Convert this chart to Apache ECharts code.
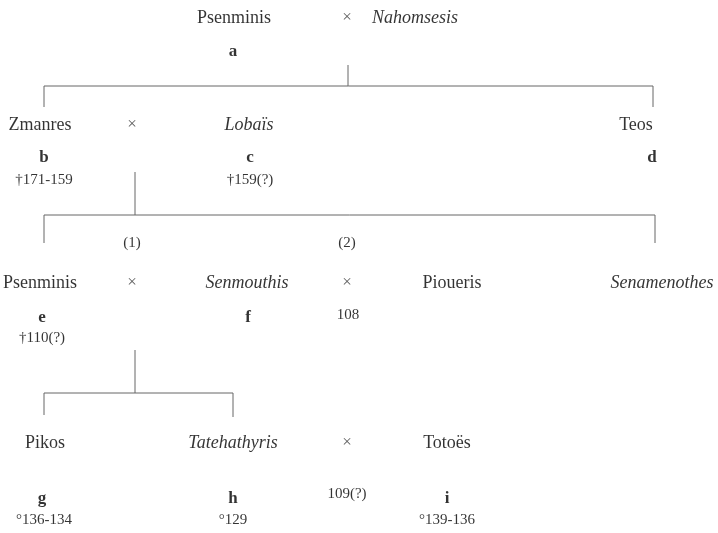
<!DOCTYPE html>
<html>
<head>
<meta charset="utf-8">
<script src="https://cdn.jsdelivr.net/npm/echarts@6/dist/echarts.min.js"></script>
<style>
html, body { margin: 0; padding: 0; background: #fff; }
#chart { width: 718px; height: 533px; }
</style>
</head>
<body>
<div id="chart"></div>
<script>
// persons (italic = female)
const names = ['Psenminis', 'Nahomsesis', 'Zmanres', 'Lobaïs', 'Teos', 'Psenminis', 'Senmouthis', 'Pioueris', 'Senamenothes', 'Pikos', 'Tatehathyris', 'Totoës'];
const female = [false, true, false, true, false, false, true, false, true, false, true, false];
const nameX = [234, 415, 40, 249, 636, 40, 247, 452, 662, 45, 233, 447];
const nameY = [18, 18, 125, 125, 125, 283, 283, 283, 283, 443, 443, 443];

// letters under the persons
const letters = ['a', 'b', 'c', 'd', 'e', 'f', 'g', 'h', 'i'];
const letterX = [233, 44, 250, 652, 42, 248, 42, 233, 447];
const letterY = [52, 158, 158, 158, 318, 318, 499, 499, 499];

// dates
const dates = ['†171-159', '†159(?)', '†110(?)', '°136-134', '°129', '°139-136'];
const dateX = [44, 250, 42, 44, 233, 447];
const dateY = [180, 180, 338, 520, 520, 520];

// marriage signs and notes
const marks = ['×', '×', '×', '×', '×', '(1)', '(2)', '108', '109(?)'];
const markX = [347, 132, 132, 347, 347, 132, 347, 348, 347];
const markY = [18, 125, 283, 283, 443, 243, 243, 315, 494];

// descent lines
const links = [
  [[348, 65], [348, 86]],
  [[44, 107], [44, 86], [653, 86], [653, 107]],
  [[135, 172], [135, 215]],
  [[44, 243], [44, 215], [655, 215], [655, 243]],
  [[135, 350], [135, 393]],
  [[44, 415], [44, 393], [233, 393], [233, 417]]
];

const font = '"Liberation Serif", "DejaVu Serif", serif';

function textSeries(texts, xs, ys, style) {
  return {
    type: 'scatter',
    symbolSize: 0,
    silent: true,
    data: texts.map((t, i) => ({
      value: [xs[i], ys[i]],
      label: Object.assign({ formatter: t, color: '#000' }, style(i))
    })),
    label: {
      show: true,
      position: 'inside',
      align: 'center',
      verticalAlign: 'middle',
      color: '#000',
      fontFamily: font
    }
  };
}

const chart = echarts.init(document.getElementById('chart'));
chart.setOption({
  animation: false,
  grid: { left: 0, right: 0, top: 0, bottom: 0 },
  xAxis: { type: 'value', min: 0, max: 718, show: false },
  yAxis: { type: 'value', min: 0, max: 533, inverse: true, show: false },
  series: [
    {
      type: 'lines',
      coordinateSystem: 'cartesian2d',
      polyline: true,
      silent: true,
      lineStyle: { color: '#666', width: 1, opacity: 1 },
      data: links.map(c => ({ coords: c }))
    },
    textSeries(names, nameX, nameY, i => ({ fontSize: 18, fontStyle: female[i] ? 'italic' : 'normal' })),
    textSeries(letters, letterX, letterY, () => ({ fontSize: 17, fontWeight: 'bold' })),
    textSeries(dates, dateX, dateY, () => ({ fontSize: 15 })),
    textSeries(marks, markX, markY, i => ({ fontSize: marks[i] === '×' ? 17 : 15, color: marks[i] === '×' ? '#333' : '#000' }))
  ]
});
</script>
</body>
</html>
